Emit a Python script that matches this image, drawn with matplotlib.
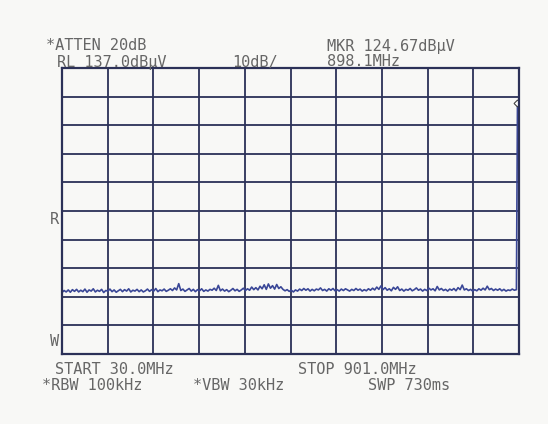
#!/usr/bin/env python

import numpy as np
import matplotlib
matplotlib.use('Agg')
import matplotlib.pyplot as plt

# sweep settings
f_start = 30.0
f_stop = 901.0
ref_level = 137.0
db_per_div = 10.0
n_div_y = 10
n_div_x = 10

mkr_freq = 898.1
mkr_level = 124.67

# noise floor (dBuV) left to right
noise = [
    58.5, 59.2, 58.7, 59.4, 58.6, 59.5, 58.9, 59.6, 58.7, 59.3, 58.8, 59.7, 58.6, 59.4, 59.0,
    59.8, 58.7, 59.3, 58.9, 59.6, 58.5, 59.2, 59.0, 59.7, 58.8, 59.4, 58.6, 59.1, 59.6, 58.8,
    59.5, 59.0, 59.8, 58.7, 59.3, 59.0, 59.6, 58.8, 59.4, 58.7, 59.1, 59.7, 58.9, 59.5, 59.0,
    59.9, 58.8, 59.4, 59.1, 59.7, 58.9, 59.3, 59.8, 59.2, 60.1, 59.4, 61.6, 59.2, 59.7, 58.9,
    59.4, 59.9, 59.0, 59.6, 58.8, 59.5, 59.1, 59.8, 58.9, 59.4, 59.0, 59.6, 59.3, 60.0, 59.2,
    61.0, 59.1, 59.7, 59.0, 59.5, 58.8, 59.3, 59.9, 59.1, 59.6, 58.9, 59.4, 60.0, 59.2, 59.8,
    59.3, 60.4, 59.5, 60.2, 59.4, 60.7, 59.8, 61.2, 59.6, 61.5, 60.0, 60.9, 59.7, 61.3, 59.9,
    60.5, 59.6, 59.1, 59.5, 58.9, 59.3, 58.7, 59.4, 59.0, 59.7, 59.2, 59.9, 59.3, 59.8, 59.0,
    59.6, 59.1, 59.7, 59.4, 60.1, 59.2, 59.6, 59.0, 59.8, 59.3, 59.9, 59.1, 59.5, 59.0, 59.7,
    59.2, 59.8, 59.4, 59.0, 59.6, 59.2, 59.9, 59.3, 59.7, 59.0, 59.5, 59.1, 59.8, 59.3, 60.0,
    59.4, 60.4, 59.6, 60.8, 59.5, 60.2, 59.3, 59.8, 59.1, 60.3, 59.6, 60.5, 59.2, 59.7, 59.0,
    59.6, 59.3, 59.9, 59.1, 59.5, 60.1, 59.3, 59.7, 59.0, 59.6, 59.2, 60.0, 59.4, 59.8, 59.1,
    60.6, 59.4, 59.9, 59.2, 59.6, 59.0, 59.7, 59.3, 59.9, 59.1, 60.2, 59.5, 61.1, 59.4, 59.8,
    59.2, 59.6, 59.0, 59.5, 59.1, 59.8, 59.3, 60.0, 59.4, 60.7, 59.5, 59.9, 59.2, 59.7, 59.3,
    59.8, 59.1, 59.6, 59.0, 59.4, 59.2, 59.7, 59.3, 59.5,
]

freqs = list(np.linspace(f_start, mkr_freq - 2.0, len(noise))) + [mkr_freq]
levels = noise + [mkr_level]

header = [
    ('*ATTEN 20dB', 46, 46),
    ('MKR 124.67dB\u03bcV', 327, 46),
    ('RL 137.0dB\u03bcV', 57, 62),
    ('10dB/', 232, 62),
    ('898.1MHz', 327, 62),
]
footer = [
    ('START 30.0MHz', 55, 370),
    ('STOP 901.0MHz', 298, 370),
    ('*RBW 100kHz', 42, 386),
    ('*VBW 30kHz', 193, 386),
    ('SWP 730ms', 368, 386),
]
side = [('R', 50, 220), ('W', 50, 342)]

W, H = 548, 424
paper = '#f8f8f6'
grid_col = '#2c3158'
trace_col = '#3a4797'
text_col = '#666666'

fig = plt.figure(figsize=(W / 100, H / 100), dpi=100, facecolor=paper)
ax = fig.add_axes([62 / W, 1 - 354 / H, 457 / W, 286 / H], facecolor=paper)

ax.plot(freqs, levels, color=trace_col, lw=1.2)
ax.plot([mkr_freq], [mkr_level], marker='D', ms=3.5, mfc='white', mec='#444444', mew=0.8)

ax.set_xlim(f_start, f_stop)
ax.set_ylim(ref_level - n_div_y * db_per_div, ref_level)
ax.set_xticks(np.linspace(f_start, f_stop, n_div_x + 1))
ax.set_yticks(np.linspace(ref_level - n_div_y * db_per_div, ref_level, n_div_y + 1))
ax.grid(True, color=grid_col, lw=1.3)
ax.tick_params(which='both', length=0, labelbottom=False, labelleft=False)
for s in ax.spines.values():
    s.set_color(grid_col)
    s.set_linewidth(1.6)

for txt, x, y in header + footer + side:
    fig.text(x / W, 1 - y / H, txt, fontsize=11, family='DejaVu Sans Mono',
             color=text_col, va='center', ha='left')

fig.savefig('out.png', dpi=100, facecolor=paper)
